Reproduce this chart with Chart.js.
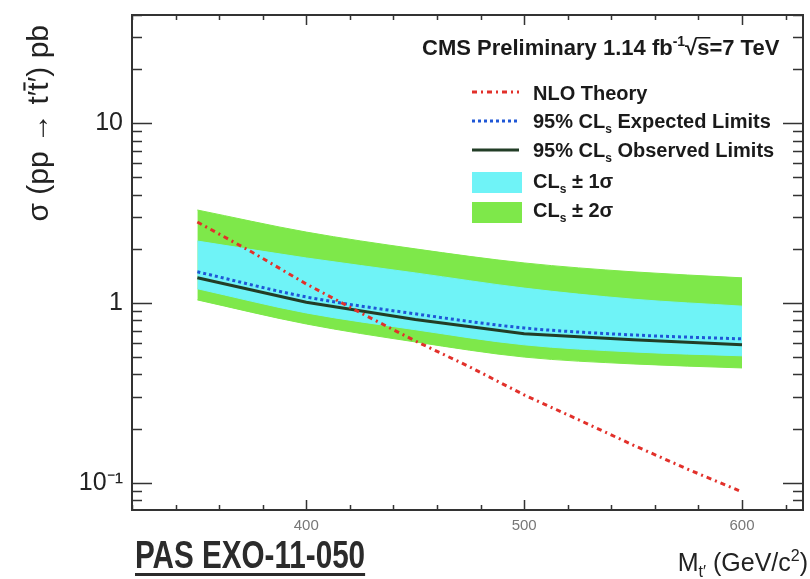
<!DOCTYPE html>
<html>
<head>
<meta charset="utf-8">
<script src="https://cdn.jsdelivr.net/npm/chart.js@4.4.1/dist/chart.umd.min.js"></script>
<style>
html, body { margin: 0; padding: 0; background: #fff; }
canvas { display: block; }
</style>
</head>
<body>
<canvas id="limitChart" width="810" height="579"></canvas>
<script>
const masses = [350, 400, 450, 500, 550, 600];
const theoryMasses = [350, 375, 400, 425, 450, 475, 500, 525, 550, 575, 600];
const nloTheory = [2.82, 1.92, 1.275, 0.88, 0.615, 0.441, 0.308, 0.224, 0.162, 0.119, 0.089];
const expectedLimit = [1.49, 1.08, 0.87, 0.726, 0.664, 0.631];
const observedLimit = [1.38, 1.01, 0.81, 0.675, 0.625, 0.585];
const band1Up = [2.21, 1.78, 1.47, 1.21, 1.05, 0.96];
const band1Down = [1.20, 0.88, 0.71, 0.585, 0.534, 0.508];
const band2Up = [3.29, 2.48, 2.0, 1.67, 1.49, 1.38];
const band2Down = [1.04, 0.764, 0.607, 0.50, 0.458, 0.435];
const xTicks = [400, 500, 600];
const yTicks = [0.1, 1, 10];
const yTickLabels = ["10⁻¹", "1", "10"];

const FONT = "'Liberation Sans', Arial, Helvetica, sans-serif";
const RED = "#e2302a";
const BLUE = "#1f57d6";
const DARK = "#223d26";
const CYAN = "#6ff3f7";
const GREEN = "#7ee84a";

function points(xs, ys) {
    return xs.map((m, i) => ({ x: m, y: ys[i] }));
}

// rich text: parts = [{t, sub, sup, bar}], y = baseline
function drawRich(ctx, parts, x, y, size, weight, align) {
    const fontFor = p => `${weight} ${p.sub || p.sup ? Math.round(size * 0.62) : size}px ${FONT}`;
    let total = 0;
    parts.forEach(p => { ctx.font = fontFor(p); p.w = ctx.measureText(p.t).width; total += p.w; });
    let cx = align === "right" ? x - total : align === "center" ? x - total / 2 : x;
    parts.forEach(p => {
        ctx.font = fontFor(p);
        const dy = p.sub ? size * 0.25 : p.sup ? -size * 0.4 : 0;
        ctx.fillText(p.t, cx, y + dy);
        if (p.bar) ctx.fillRect(cx, y - size * 0.82, p.w, Math.max(1.5, size * 0.07));
        cx += p.w;
    });
    return total;
}

function noPadding(s) {
    s.paddingTop = 0;
    s.paddingBottom = 0;
    s.paddingLeft = 0;
    s.paddingRight = 0;
}

const rootFrame = {
    id: "rootFrame",
    afterDraw(chart) {
        const { ctx, chartArea: a, scales: { x, y } } = chart;
        ctx.save();
        ctx.strokeStyle = "#333";
        ctx.lineWidth = 1.5;
        ctx.beginPath();
        for (let v = 320; v <= x.max; v += 20) {
            const px = Math.round(x.getPixelForValue(v)) + 0.5;
            const len = v % 100 === 0 ? 10 : 5;
            ctx.moveTo(px, a.bottom); ctx.lineTo(px, a.bottom - len);
            ctx.moveTo(px, a.top); ctx.lineTo(px, a.top + len);
        }
        for (let e = -2; e <= 1; e++) {
            for (let m = 1; m <= 9; m++) {
                const v = m * Math.pow(10, e);
                if (v < y.min || v > y.max) continue;
                const py = Math.round(y.getPixelForValue(v)) + 0.5;
                const len = m === 1 ? 20 : 10;
                ctx.moveTo(a.left, py); ctx.lineTo(a.left + len, py);
                ctx.moveTo(a.right, py); ctx.lineTo(a.right - len, py);
            }
        }
        ctx.stroke();
        ctx.lineWidth = 2;
        ctx.strokeRect(a.left, a.top, a.width, a.height);

        // header
        ctx.fillStyle = "#1a1a1a";
        ctx.textBaseline = "alphabetic";
        const hx = 422, hy = 55;
        let w = drawRich(ctx, [{ t: "CMS Preliminary 1.14 fb" }, { t: "-1", sup: true }, { t: "√" }], hx, hy, 22, "bold", "left");
        ctx.font = `bold 22px ${FONT}`;
        const sw = ctx.measureText("s").width;
        ctx.fillText("s=7 TeV", hx + w, hy);
        ctx.fillRect(hx + w - 1, hy - 18, sw + 2, 1.5);

        // legend
        const lx0 = 472, lx1 = 519, tx = 533;
        const ds = chart.data.datasets;
        [[0, 92], [1, 121], [2, 150]].forEach(([i, ly]) => {
            ctx.save();
            ctx.strokeStyle = ds[i].borderColor;
            ctx.lineWidth = ds[i].borderWidth;
            ctx.setLineDash(ds[i].borderDash || []);
            ctx.beginPath(); ctx.moveTo(lx0, ly); ctx.lineTo(lx1, ly); ctx.stroke();
            ctx.restore();
        });
        ctx.fillStyle = CYAN; ctx.fillRect(472, 172, 50, 21);
        ctx.fillStyle = GREEN; ctx.fillRect(472, 202, 50, 21);
        ctx.fillStyle = "#1a1a1a";
        drawRich(ctx, [{ t: "NLO Theory" }], tx, 100, 20, "bold", "left");
        drawRich(ctx, [{ t: "95% CL" }, { t: "s", sub: true }, { t: " Expected Limits" }], tx, 128, 20, "bold", "left");
        drawRich(ctx, [{ t: "95% CL" }, { t: "s", sub: true }, { t: " Observed Limits" }], tx, 157, 20, "bold", "left");
        drawRich(ctx, [{ t: "CL" }, { t: "s", sub: true }, { t: " ± 1σ" }], tx, 188, 20, "bold", "left");
        drawRich(ctx, [{ t: "CL" }, { t: "s", sub: true }, { t: " ± 2σ" }], tx, 217, 20, "bold", "left");

        // axis titles
        ctx.fillStyle = "#222";
        drawRich(ctx, [{ t: "M" }, { t: "t′", sub: true }, { t: " (GeV/c" }, { t: "2", sup: true }, { t: ")" }], 808, 571, 25, "normal", "right");
        ctx.save();
        ctx.translate(48, 25);
        ctx.rotate(-Math.PI / 2);
        drawRich(ctx, [{ t: "σ (pp → t′" }, { t: "t", bar: true }, { t: "′) pb" }], 0, 0, 30, "normal", "right");
        ctx.restore();

        // note below the frame
        ctx.save();
        ctx.fillStyle = "#2b2b2b";
        ctx.translate(135, 568);
        ctx.scale(0.78, 1);
        ctx.font = `bold 38px ${FONT}`;
        ctx.fillText("PAS EXO-11-050", 0, 0);
        const nw = ctx.measureText("PAS EXO-11-050").width;
        ctx.fillRect(0, 5, nw, 3);
        ctx.restore();
        ctx.restore();
    }
};

new Chart(document.getElementById("limitChart"), {
    type: "line",
    data: {
        datasets: [
            { label: "NLO Theory", data: points(theoryMasses, nloTheory), borderColor: RED, borderWidth: 3, borderDash: [5, 4, 2, 4], pointRadius: 0, fill: false },
            { label: "95% CLs Expected Limits", data: points(masses, expectedLimit), borderColor: BLUE, borderWidth: 3, borderDash: [3, 3], pointRadius: 0, fill: false, cubicInterpolationMode: "monotone" },
            { label: "95% CLs Observed Limits", data: points(masses, observedLimit), borderColor: DARK, borderWidth: 3, pointRadius: 0, fill: false },
            { label: "CLs ± 1σ", data: points(masses, band1Up), borderColor: CYAN, backgroundColor: CYAN, borderWidth: 1, pointRadius: 0, fill: "+1", cubicInterpolationMode: "monotone" },
            { label: "CLs ± 1σ low", data: points(masses, band1Down), borderColor: CYAN, borderWidth: 1, pointRadius: 0, fill: false, cubicInterpolationMode: "monotone" },
            { label: "CLs ± 2σ", data: points(masses, band2Up), borderColor: GREEN, backgroundColor: GREEN, borderWidth: 1, pointRadius: 0, fill: "+1", cubicInterpolationMode: "monotone" },
            { label: "CLs ± 2σ low", data: points(masses, band2Down), borderColor: GREEN, borderWidth: 1, pointRadius: 0, fill: false, cubicInterpolationMode: "monotone" }
        ]
    },
    options: {
        responsive: false,
        animation: false,
        devicePixelRatio: 1,
        layout: { padding: { top: 15, right: 7, left: 0, bottom: 0 } },
        plugins: { legend: { display: false }, tooltip: { enabled: false } },
        scales: {
            x: {
                type: "linear",
                min: 320,
                max: 628,
                afterBuildTicks: s => { s.ticks = xTicks.map(v => ({ value: v })); },
                afterFit: s => { s.height = 69; noPadding(s); },
                grid: { display: false, drawTicks: false },
                border: { display: false },
                ticks: { font: { family: FONT, size: 15 }, color: "#777", padding: 7, maxRotation: 0, autoSkip: false }
            },
            y: {
                type: "logarithmic",
                min: 0.0705,
                max: 40,
                afterBuildTicks: s => { s.ticks = yTicks.map(v => ({ value: v })); },
                afterFit: s => { s.width = 132; noPadding(s); },
                grid: { display: false, drawTicks: false },
                border: { display: false },
                ticks: {
                    font: { family: FONT, size: 25 },
                    color: "#222",
                    padding: 9,
                    autoSkip: false,
                    callback: v => yTickLabels[yTicks.indexOf(v)] ?? ""
                }
            }
        }
    },
    plugins: [rootFrame]
});
</script>
</body>
</html>
